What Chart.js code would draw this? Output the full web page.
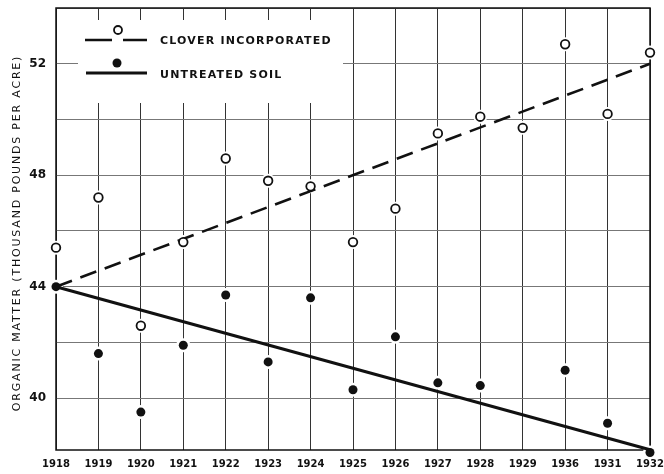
<!DOCTYPE html>
<html>
<head>
<meta charset="utf-8">
<script src="https://cdn.jsdelivr.net/npm/chart.js@4.4.1/dist/chart.umd.min.js"></script>
<style>
  html, body { margin: 0; padding: 0; background: #fff; }
  #wrap { width: 664px; height: 474px; }
</style>
</head>
<body>
<div id="wrap"><canvas id="chart"></canvas></div>
<script>
(function () {
    'use strict';

    // --- Data ---
    const years = ['1918', '1919', '1920', '1921', '1922', '1923', '1924', '1925',
        '1926', '1927', '1928', '1929', '1936', '1931', '1932'];
    const clover = [45.4, 47.2, 42.6, 45.6, 48.6, 47.8, 47.6, 45.6,
        46.8, 49.5, 50.1, 49.7, 52.7, 50.2, 52.4];
    const untreated = [44.0, 41.6, 39.5, 41.9, 43.7, 41.3, 43.6, 40.3,
        42.2, 40.55, 40.45, null, 41.0, 39.1, 38.05];
    const trendYears = ['1918', '1932'];
    const cloverTrend = [44.0, 52.0];
    const untreatedTrend = [44.0, 38.15];
    const yGrid = [40, 42, 44, 46, 48, 50, 52, 54];
    const yLabels = [40, 44, 48, 52];

    const cloverLabel = 'CLOVER INCORPORATED';
    const untreatedLabel = 'UNTREATED SOIL';
    const yTitle = 'ORGANIC MATTER (THOUSAND POUNDS PER ACRE)';

    const ink = '#111';

    const trendPoints = (vals) => trendYears.map((y, i) => ({ x: y, y: vals[i] }));

    // --- Plugins ---

    // frame + white legend box (drawn over grid, under data)
    const framePlugin = {
        id: 'frame',
        beforeDatasetsDraw(chart) {
            const { ctx, chartArea: a } = chart;
            ctx.save();
            ctx.strokeStyle = ink;
            ctx.lineWidth = 1.5;
            ctx.strokeRect(a.left, a.top, a.right - a.left, a.bottom - a.top);
            ctx.fillStyle = '#fff';
            ctx.fillRect(78, 20, 265, 83);
            ctx.restore();
        },
    };

    const legendPlugin = {
        id: 'customLegend',
        afterDatasetsDraw(chart) {
            const ctx = chart.ctx;
            ctx.save();
            ctx.strokeStyle = ink;
            ctx.fillStyle = ink;

            // clover sample
            ctx.lineWidth = 2.5;
            ctx.beginPath();
            ctx.moveTo(85, 40); ctx.lineTo(112, 40);
            ctx.moveTo(123, 40); ctx.lineTo(147, 40);
            ctx.stroke();
            ctx.lineWidth = 1.8;
            ctx.beginPath();
            ctx.arc(118, 30, 4, 0, Math.PI * 2);
            ctx.fillStyle = '#fff';
            ctx.fill();
            ctx.stroke();

            // untreated sample
            ctx.fillStyle = ink;
            ctx.lineWidth = 3;
            ctx.beginPath();
            ctx.moveTo(86, 73); ctx.lineTo(147, 73);
            ctx.stroke();
            ctx.beginPath();
            ctx.arc(117, 63, 4.5, 0, Math.PI * 2);
            ctx.fill();

            ctx.font = 'bold 11px "DejaVu Sans"';
            ctx.letterSpacing = '1.2px';
            ctx.textBaseline = 'middle';
            ctx.textAlign = 'left';
            ctx.fillText(cloverLabel, 160, 41);
            ctx.fillText(untreatedLabel, 160, 75);

            // y title
            ctx.font = '11px "DejaVu Sans"';
            ctx.letterSpacing = '1.8px';
            ctx.translate(17, 233);
            ctx.rotate(-Math.PI / 2);
            ctx.textAlign = 'center';
            ctx.fillText(yTitle, 0, 0);
            ctx.restore();
        },
    };

    // --- Chart ---

    new Chart(document.getElementById('chart'), {
        type: 'line',
        data: {
            labels: years,
            datasets: [
                // white halos that break the grid around each mark
                {
                    data: clover, showLine: false, order: 10, clip: false,
                    pointRadius: 7, pointBackgroundColor: '#fff', pointBorderWidth: 0,
                },
                {
                    data: untreated, showLine: false, order: 10, clip: false,
                    pointRadius: 7, pointBackgroundColor: '#fff', pointBorderWidth: 0,
                },
                {
                    label: cloverLabel + ' trend',
                    data: trendPoints(cloverTrend), order: 5, clip: false,
                    borderColor: ink, borderWidth: 2.6, borderDash: [17, 9],
                    pointRadius: 0,
                },
                {
                    label: untreatedLabel + ' trend',
                    data: trendPoints(untreatedTrend), order: 5, clip: false,
                    borderColor: ink, borderWidth: 3,
                    pointRadius: 0,
                },
                {
                    label: cloverLabel,
                    data: clover, showLine: false, order: 1, clip: false,
                    pointRadius: 4.3, pointBorderWidth: 1.8,
                    pointBackgroundColor: '#fff', pointBorderColor: ink,
                },
                {
                    label: untreatedLabel,
                    data: untreated, showLine: false, order: 1, clip: false,
                    pointRadius: 4.5, pointBorderWidth: 0,
                    pointBackgroundColor: ink,
                },
            ],
        },
        options: {
            responsive: true,
            maintainAspectRatio: false,
            animation: false,
            layout: { padding: { left: 0, right: 14, top: 8, bottom: 0 } },
            plugins: {
                legend: { display: false },
                tooltip: { enabled: false },
            },
            scales: {
                x: {
                    offset: false,
                    grid: { color: '#333', lineWidth: 1, drawTicks: false, offset: false },
                    border: { display: false },
                    ticks: {
                        color: ink, padding: 8, maxRotation: 0, autoSkip: false,
                        font: { family: 'DejaVu Sans', size: 10, weight: 'bold' },
                    },
                    afterFit(scale) {
                        scale.height = 24;
                        scale.paddingLeft = 0;
                        scale.paddingRight = 0;
                    },
                },
                y: {
                    min: 38.14,
                    max: 54,
                    afterBuildTicks(scale) {
                        scale.ticks = yGrid.map(v => ({ value: v }));
                    },
                    grid: { color: '#777', lineWidth: 1, drawTicks: false },
                    border: { display: false },
                    ticks: {
                        color: ink, padding: 10,
                        font: { family: 'DejaVu Sans', size: 12, weight: 'bold' },
                        callback: (v) => (yLabels.includes(v) ? String(v) : ''),
                    },
                    afterFit(scale) {
                        scale.width = 56;
                        scale.paddingTop = 0;
                        scale.paddingBottom = 0;
                    },
                },
            },
        },
        plugins: [framePlugin, legendPlugin],
    });
})();
</script>
</body>
</html>
